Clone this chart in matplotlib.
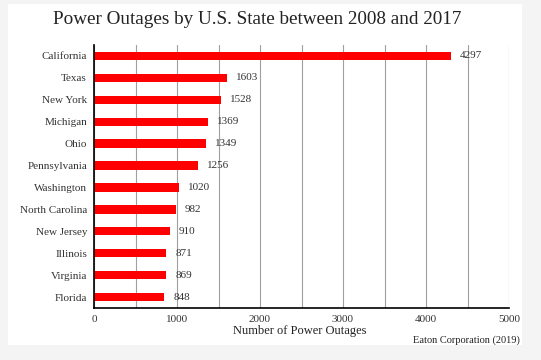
import matplotlib
matplotlib.use("Agg")
import matplotlib.pyplot as plt
from matplotlib.patches import Rectangle

# data
states = ["California", "Texas", "New York", "Michigan", "Ohio", "Pennsylvania",
          "Washington", "North Carolina", "New Jersey", "Illinois", "Virginia", "Florida"]
outages = [4297, 1603, 1528, 1369, 1349, 1256, 1020, 982, 910, 871, 869, 848]
x_ticks = [0, 1000, 2000, 3000, 4000, 5000]

plt.rcParams['font.family'] = ['Liberation Serif', 'DejaVu Serif']

fig = plt.figure(figsize=(5.41, 3.6), dpi=100)
fig.patch.set_facecolor("#f4f4f4")
# white card behind the chart
card = Rectangle((8/541, 1 - 345/360), (522-8)/541, (345-4)/360,
                 transform=fig.transFigure, facecolor="white",
                 edgecolor="none", zorder=-1)
fig.patches.append(card)

ax = fig.add_axes([94/541, 1 - 308/360, (509-94)/541, (308-45)/360])
ax.set_zorder(2)
ax.set_facecolor("white")

y = list(range(len(states)))
ax.barh(y, outages, height=0.38, color="#ff0000", zorder=3)
for yi, v in zip(y, outages):
    ax.text(v + 110, yi, str(v), va="center", ha="left", fontsize=8, color="#333333", zorder=4)

ax.set_yticks(y)
ax.set_yticklabels(states, fontsize=8, color="#333333")
ax.set_ylim(len(states) - 0.5, -0.5)
ax.set_xlim(0, 5000)
ax.set_xticks(x_ticks)
ax.set_xticklabels([str(t) for t in x_ticks], fontsize=8, color="#333333")
ax.set_xticks(range(500, 5001, 500), minor=True)
ax.tick_params(axis="both", length=0, pad=5)
ax.tick_params(axis="x", which="minor", length=0)
ax.grid(axis="x", which="both", color="#a0a0a0", linewidth=0.8, zorder=1)

for s in ["top", "right"]:
    ax.spines[s].set_visible(False)
ax.spines["left"].set_color("black")
ax.spines["bottom"].set_color("black")
ax.spines["left"].set_linewidth(1.2)
ax.spines["bottom"].set_linewidth(1.2)
ax.spines["left"].set_zorder(5)

fig.text(257/541, 1 - 20/360, "Power Outages by U.S. State between 2008 and 2017",
         ha="center", va="center", fontsize=13.8, color="#222222")
fig.text(300/541, 1 - 331/360, "Number of Power Outages", ha="center", va="center",
         fontsize=9, color="#222222")
fig.text(520/541, 1 - 340/360, "Eaton Corporation (2019)", ha="right", va="center",
         fontsize=7.5, color="#222222")

fig.savefig("out.png", dpi=100, facecolor=fig.get_facecolor())
